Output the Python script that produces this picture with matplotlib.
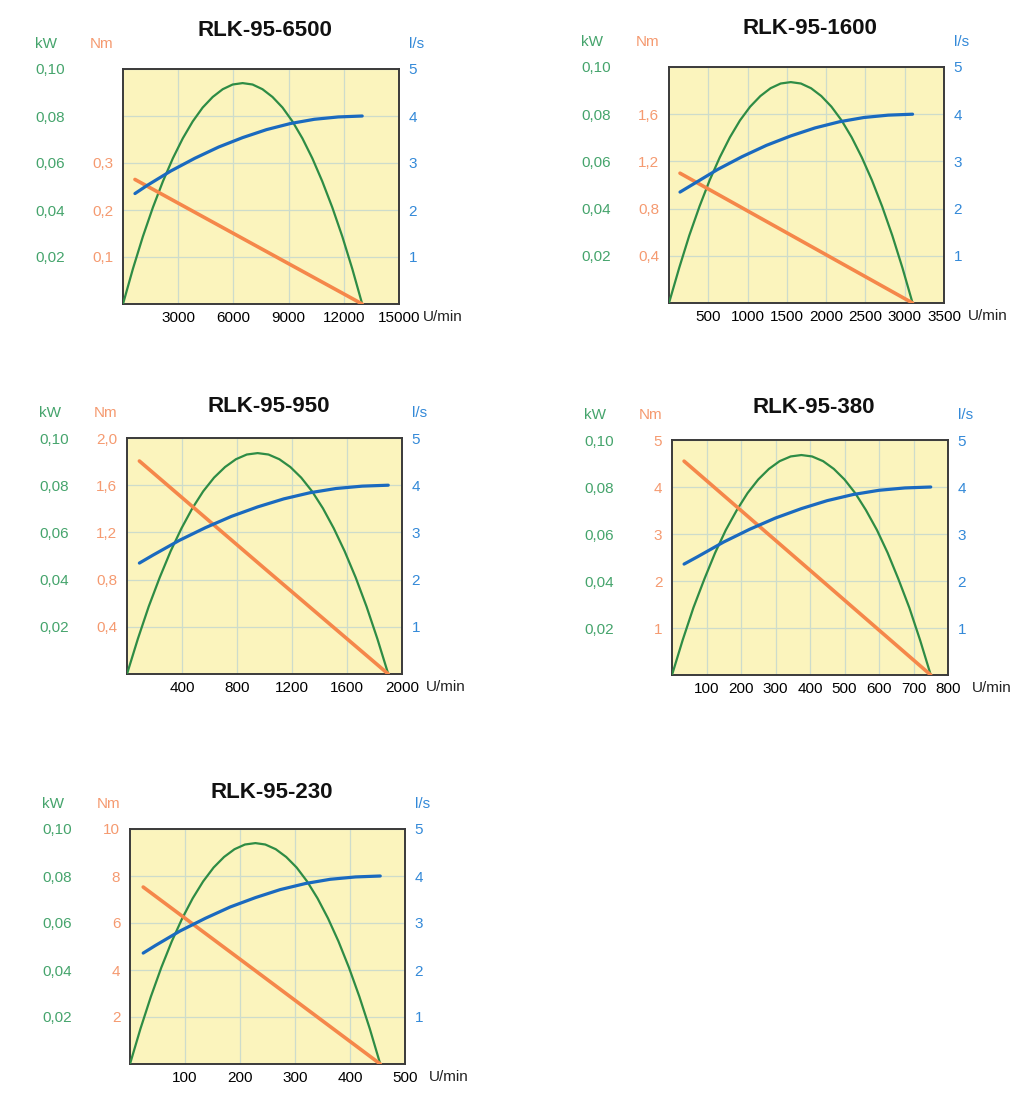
import matplotlib
matplotlib.use("Agg")
import matplotlib.pyplot as plt

plt.rcParams['font.family'] = ['Liberation Sans', 'DejaVu Sans']

# --- data (speed in U/min) ---
titles = ["RLK-95-6500", "RLK-95-1600", "RLK-95-950", "RLK-95-380", "RLK-95-230"]
x_max = [15000, 3500, 2000, 800, 500]
x_ticks = [[3000, 6000, 9000, 12000, 15000],
           [500, 1000, 1500, 2000, 2500, 3000, 3500],
           [400, 800, 1200, 1600, 2000],
           [100, 200, 300, 400, 500, 600, 700, 800],
           [100, 200, 300, 400, 500]]
nm_max = [0.5, 2.0, 2.0, 5, 10]
nm_ticks = [[0.1, 0.2, 0.3], [0.4, 0.8, 1.2, 1.6], [0.4, 0.8, 1.2, 1.6, 2.0],
            [1, 2, 3, 4, 5], [2, 4, 6, 8, 10]]
nm_labels = [["0,1", "0,2", "0,3"], ["0,4", "0,8", "1,2", "1,6"],
             ["0,4", "0,8", "1,2", "1,6", "2,0"], ["1", "2", "3", "4", "5"],
             ["2", "4", "6", "8", "10"]]

# power (kW) curves
p_speed = [
    [0, 540, 1080, 1625, 2170, 2710, 3250, 3790, 4330, 4875, 5420, 5960, 6500,
     7040, 7580, 8125, 8670, 9210, 9750, 10290, 10830, 11375, 11920, 12460, 13000],
    [0, 130, 258, 388, 517, 646, 775, 904, 1033, 1163, 1292, 1421, 1550,
     1679, 1808, 1938, 2067, 2196, 2325, 2454, 2583, 2713, 2842, 2971, 3100],
    [0, 79, 158, 238, 317, 396, 475, 554, 633, 713, 792, 871, 950,
     1029, 1108, 1188, 1267, 1346, 1425, 1504, 1583, 1663, 1742, 1821, 1900],
    [0, 31, 62, 94, 125, 156, 188, 219, 250, 281, 312, 344, 375,
     406, 438, 469, 500, 531, 562, 594, 625, 656, 688, 719, 750],
    [0, 19, 38, 57, 76, 95, 114, 133, 152, 171, 190, 209, 228,
     246, 265, 284, 303, 322, 341, 360, 379, 398, 417, 436, 455],
]
p_kw = [
    [0, 0.0150, 0.0287, 0.0411, 0.0522, 0.0620, 0.0705, 0.0777, 0.0836, 0.0881, 0.0914, 0.0934, 0.0940,
     0.0934, 0.0914, 0.0881, 0.0836, 0.0777, 0.0705, 0.0620, 0.0522, 0.0411, 0.0287, 0.0150, 0],
    [0, 0.0149, 0.0286, 0.0409, 0.0520, 0.0617, 0.0702, 0.0774, 0.0832, 0.0877, 0.0910, 0.0930, 0.0936,
     0.0930, 0.0910, 0.0877, 0.0832, 0.0774, 0.0702, 0.0617, 0.0520, 0.0409, 0.0286, 0.0149, 0],
    [0, 0.0149, 0.0286, 0.0409, 0.0520, 0.0617, 0.0702, 0.0774, 0.0832, 0.0877, 0.0910, 0.0930, 0.0936,
     0.0930, 0.0910, 0.0877, 0.0832, 0.0774, 0.0702, 0.0617, 0.0520, 0.0409, 0.0286, 0.0149, 0],
    [0, 0.0149, 0.0286, 0.0409, 0.0520, 0.0617, 0.0702, 0.0774, 0.0832, 0.0877, 0.0910, 0.0930, 0.0936,
     0.0930, 0.0910, 0.0877, 0.0832, 0.0774, 0.0702, 0.0617, 0.0520, 0.0409, 0.0286, 0.0149, 0],
    [0, 0.0150, 0.0287, 0.0411, 0.0522, 0.0620, 0.0705, 0.0777, 0.0836, 0.0881, 0.0914, 0.0934, 0.0940,
     0.0934, 0.0914, 0.0881, 0.0836, 0.0777, 0.0705, 0.0620, 0.0522, 0.0411, 0.0287, 0.0150, 0],
]

# torque (Nm) lines
t_speed = [[650, 6800, 13000], [140, 1620, 3100], [90, 995, 1900], [35, 392, 750], [24, 240, 455]]
t_nm = [[0.265, 0.133, 0], [1.10, 0.55, 0], [1.805, 0.90, 0], [4.55, 2.28, 0], [7.53, 3.76, 0]]

# air flow (l/s) curves
q_speed = [
    [650, 1300, 2600, 3900, 5200, 6500, 7800, 9100, 10400, 11700, 13000],
    [140, 310, 620, 930, 1240, 1550, 1860, 2170, 2480, 2790, 3100],
    [90, 190, 380, 570, 760, 950, 1140, 1330, 1520, 1710, 1900],
    [35, 75, 150, 225, 300, 375, 450, 525, 600, 675, 750],
    [24, 46, 91, 137, 182, 228, 273, 319, 364, 410, 455],
]
q_ls = [
    [2.35, 2.52, 2.83, 3.10, 3.34, 3.54, 3.71, 3.84, 3.93, 3.98, 4.0],
    [2.35, 2.52, 2.83, 3.10, 3.34, 3.54, 3.71, 3.84, 3.93, 3.98, 4.0],
    [2.35, 2.52, 2.83, 3.10, 3.34, 3.54, 3.71, 3.84, 3.93, 3.98, 4.0],
    [2.36, 2.52, 2.83, 3.10, 3.34, 3.54, 3.71, 3.84, 3.93, 3.98, 4.0],
    [2.36, 2.52, 2.83, 3.10, 3.34, 3.54, 3.71, 3.84, 3.93, 3.98, 4.0],
]

kw_ticks = [0.02, 0.04, 0.06, 0.08, 0.10]
kw_labels = ["0,02", "0,04", "0,06", "0,08", "0,10"]
q_ticks = [1, 2, 3, 4, 5]

# layout: axes box in pixels (left, top, right, bottom), title offset above box
W, H = 1013, 1102
boxes = [(123, 69, 399, 304), (669, 67, 944, 303), (127, 438, 402, 674),
         (672, 440, 948, 675), (130, 829, 405, 1064)]
title_off = [39, 38, 31, 33, 37]

GREEN, GREEN_T = '#2e8c45', '#45a46c'
ORANGE, ORANGE_T = '#f5874a', '#f59a70'
BLUE, BLUE_T = '#1a6abf', '#3389d8'
BG = '#fbf4bd'
GRID = '#cddccb'
FS = 11

fig = plt.figure(figsize=(W / 100, H / 100), dpi=100)

for i in range(5):
    l, t, r, b = boxes[i]
    wpx, hpx = r - l, b - t
    ax = fig.add_axes([l / W, 1 - b / H, wpx / W, hpx / H])
    ax.set_facecolor(BG)
    ax.set_xlim(0, x_max[i])
    ax.set_ylim(0, 0.1)
    ax.set_xticks(x_ticks[i])
    ax.set_xticklabels([str(v) for v in x_ticks[i]], fontsize=FS)
    ax.set_yticks(kw_ticks)
    ax.set_yticklabels(kw_labels, fontsize=FS, color=GREEN_T)
    ax.tick_params(axis='both', length=0)
    ax.tick_params(axis='y', pad=42)
    ax.tick_params(axis='x', pad=5)
    ax.grid(True, color=GRID, lw=0.9)
    ax.set_axisbelow(True)
    for s in ax.spines.values():
        s.set_color('#3a3a3a')
        s.set_linewidth(1.4)
    ax.plot(p_speed[i], p_kw[i], color=GREEN, lw=1.6, zorder=3)

    ax_nm = ax.twinx()
    ax_nm.set_ylim(0, nm_max[i])
    ax_nm.yaxis.set_ticks_position('left')
    ax_nm.set_yticks(nm_ticks[i])
    ax_nm.set_yticklabels(nm_labels[i], fontsize=FS, color=ORANGE_T)
    ax_nm.tick_params(axis='y', length=0, pad=7)
    ax_nm.plot(t_speed[i], t_nm[i], color=ORANGE, lw=2.6, solid_capstyle='round', zorder=3)
    for s in ax_nm.spines.values():
        s.set_visible(False)

    ax_q = ax.twinx()
    ax_q.set_ylim(0, 5)
    ax_q.set_yticks(q_ticks)
    ax_q.set_yticklabels([str(v) for v in q_ticks], fontsize=FS, color=BLUE_T)
    ax_q.tick_params(axis='y', length=0, pad=7)
    ax_q.plot(q_speed[i], q_ls[i], color=BLUE, lw=2.3, solid_capstyle='round', zorder=4)
    for s in ax_q.spines.values():
        s.set_visible(False)

    # unit labels
    ax.text(-88 / wpx, 1 + 25 / hpx, "kW", transform=ax.transAxes, color=GREEN_T,
            fontsize=FS, ha='left', va='center')
    ax.text(-10 / wpx, 1 + 25 / hpx, "Nm", transform=ax.transAxes, color=ORANGE_T,
            fontsize=FS, ha='right', va='center')
    ax.text(1 + 10 / wpx, 1 + 25 / hpx, "l/s", transform=ax.transAxes, color=BLUE_T,
            fontsize=FS, ha='left', va='center')
    ax.text(1 + 24 / wpx, -13 / hpx, "U/min", transform=ax.transAxes, color='#222222',
            fontsize=FS, ha='left', va='center')
    ax.text(0.514, 1 + title_off[i] / hpx, titles[i], transform=ax.transAxes,
            fontsize=16, fontweight='bold', ha='center', va='center', color='#111111')

fig.savefig("out.png", dpi=100, facecolor='white')
